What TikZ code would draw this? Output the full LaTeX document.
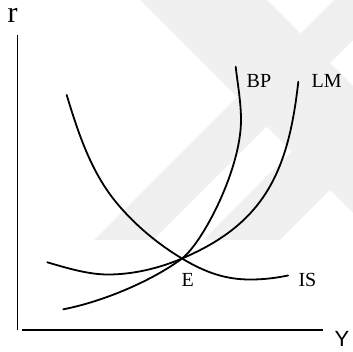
\documentclass[tikz,border=0pt]{standalone}
\usepackage{fontspec}
\setmainfont{Liberation Serif}
\newfontfamily\sansY{Liberation Sans}
\begin{document}
\begin{tikzpicture}[x=1pt,y=-1pt,
  curve/.style={line width=1.8pt, line cap=round},
  axisline/.style={line width=1.8pt},
  wm/.style={fill=black!6},
  lbl/.style={inner sep=0pt, anchor=base west, font=\fontsize{20}{20}\selectfont}]
\useasboundingbox (0,0) rectangle (353,351);
% faint watermark
\begin{scope}
\clip (0,0) rectangle (353,351);
\fill[wm] (140,0) -- (267,0) -- (353,86) -- (353,213) -- cycle;
\fill[wm] (94,240) -- (153,240) -- (393,0) -- (334,0) -- cycle;
\fill[wm] (203,240) -- (280,240) -- (520,0) -- (443,0) -- cycle;
\end{scope}
% axes
\coordinate (ytop) at (17.5,35);
\coordinate (ybot) at (17.5,330);
\coordinate (xleft) at (21.5,330);
\coordinate (xright) at (322.5,330);
\draw[axisline] (ytop) -- (ybot);
\draw[axisline] (xleft) -- (xright);
\node[inner sep=0pt, anchor=base west, font=\fontsize{30}{30}\selectfont] (r) at (7.5,22.7) {r};
\node[inner sep=0pt, anchor=north west, font=\sansY\fontsize{22}{22}\selectfont] (Y) at (334.5,331) {Y};
% equilibrium point
\coordinate (E) at (182,258.5);
% IS
\coordinate (isA) at (66.7,95);
\coordinate (isM) at (116.7,203);
\coordinate (isMin) at (250,279.5);
\coordinate (isEnd) at (288,275.5);
\draw[curve] (isA) .. controls (78.3,133.3) and (91.1,172.2) .. (isM)
  .. controls (135,225) and (157.5,243.8) .. (E)
  .. controls (206,272.9) and (226.3,279.5) .. (isMin)
  .. controls (268,279.5) and (280,277) .. (isEnd);
% BP
\coordinate (bpS) at (63.3,309.3);
\coordinate (bpM) at (241,120);
\coordinate (bpT) at (235.7,66.7);
\draw[curve] (bpS) .. controls (105.4,301.1) and (154,279.5) .. (E)
  .. controls (202,243.5) and (241,170) .. (bpM)
  .. controls (241,102) and (237.7,84.5) .. (bpT);
% LM
\coordinate (lmS) at (47.3,262.3);
\coordinate (lmMin) at (108,274.5);
\coordinate (lmT) at (298.3,81.7);
\draw[curve] (lmS) .. controls (66.5,267.9) and (88,274.5) .. (lmMin)
  .. controls (133,274.5) and (159,268.3) .. (E)
  .. controls (264.8,223.4) and (288.4,171.2) .. (lmT);
% labels
\node[lbl] (bp) at (246.5,87.3) {BP};
\node[lbl] (lm) at (311.5,87.3) {LM};
\node[lbl] (is) at (298.3,286.7) {IS};
\node[lbl] (e) at (181.5,286.7) {E};
\end{tikzpicture}
\end{document}
